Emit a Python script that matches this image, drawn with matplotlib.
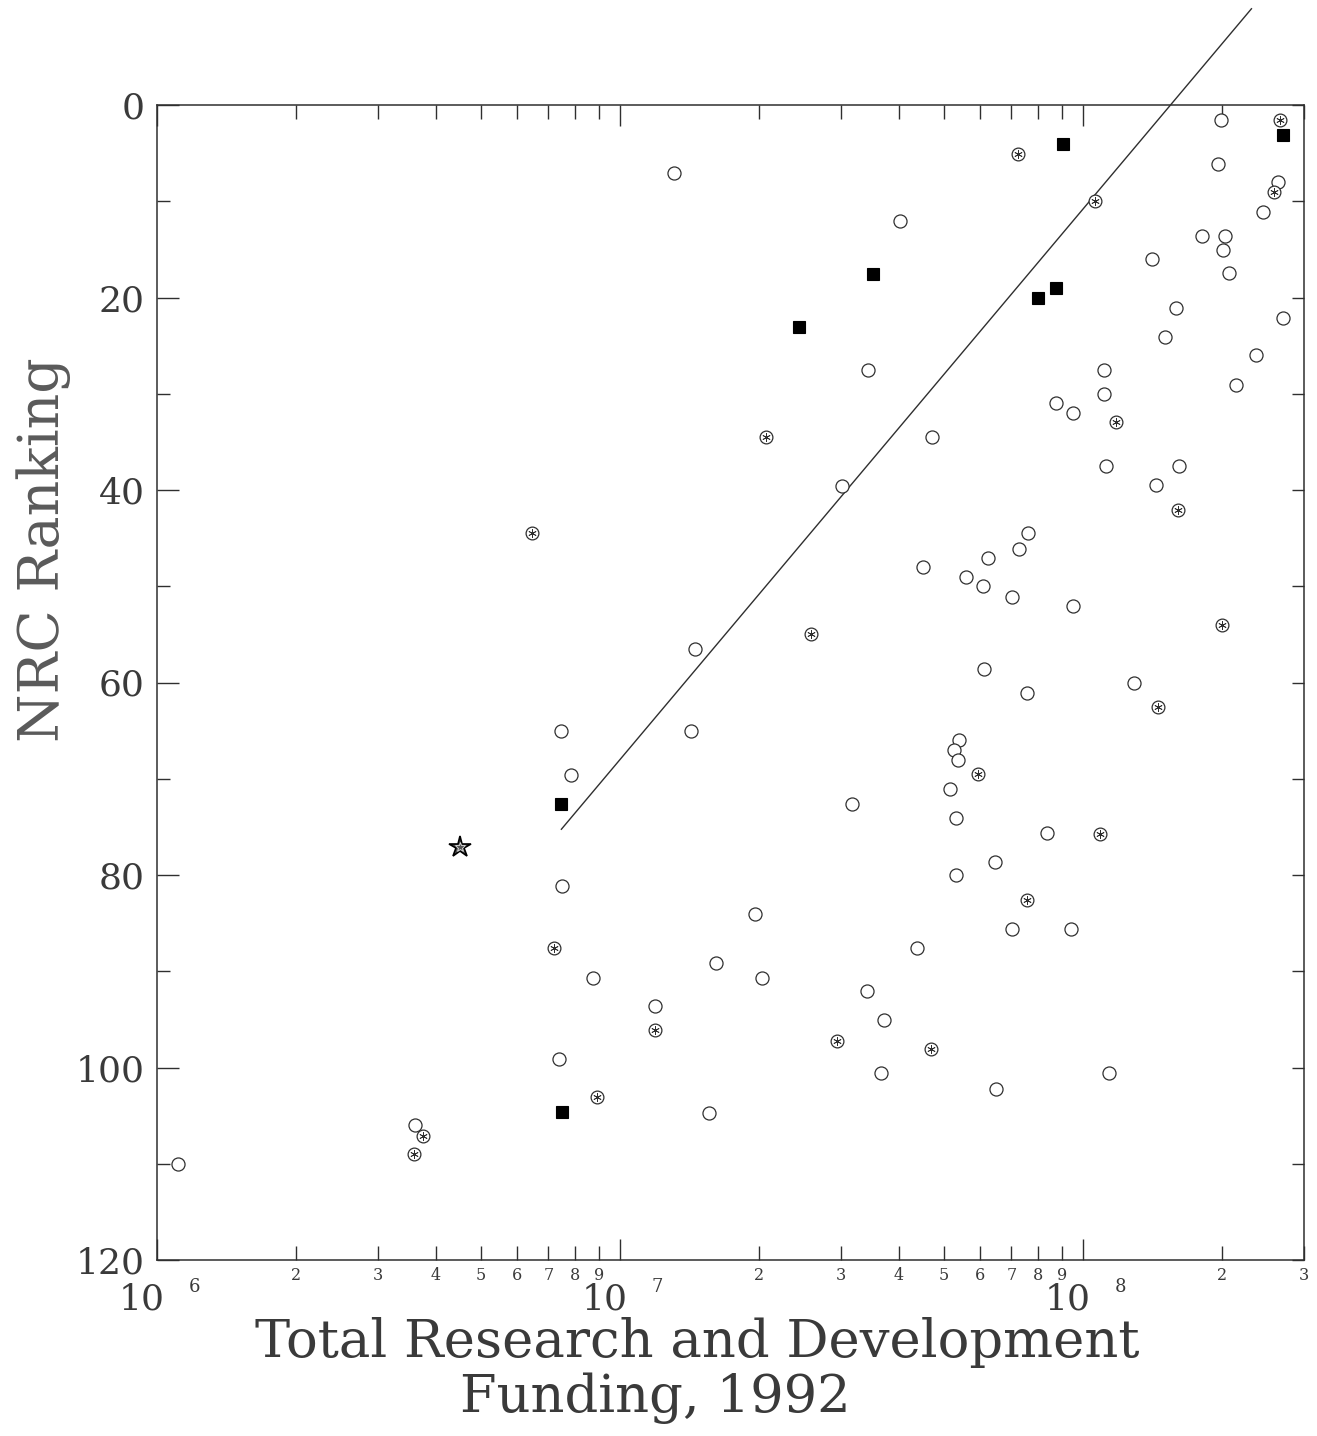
import numpy as np
import matplotlib
matplotlib.use("Agg")
import matplotlib.pyplot as plt
from matplotlib.transforms import blended_transform_factory, ScaledTranslation

# ---------------- data ----------------
open_funding = [1.99e8, 1.96e8, 1.31e7, 2.64e8, 4.03e7, 2.45e8, 1.81e8, 2.03e8, 2.01e8, 1.41e8,
                2.07e8, 1.59e8, 2.70e8, 1.50e8, 2.36e8, 3.44e7, 1.11e8, 2.14e8, 1.11e8, 8.75e7,
                9.53e7, 4.72e7, 1.12e8, 1.61e8, 1.44e8, 3.01e7, 7.59e7, 7.26e7, 6.22e7, 4.52e7,
                5.58e7, 6.08e7, 7.03e7, 9.51e7, 1.45e7, 6.11e7, 1.29e8, 7.57e7, 7.46e6, 1.42e7,
                5.40e7, 5.27e7, 5.36e7, 7.82e6, 5.15e7, 3.17e7, 5.32e7, 8.34e7, 6.44e7, 5.32e7,
                7.48e6, 1.96e7, 7.03e7, 9.40e7, 4.37e7, 1.61e7, 8.75e6, 2.03e7, 3.41e7, 1.19e7,
                3.72e7, 7.38e6, 3.67e7, 1.14e8, 6.47e7, 1.56e7, 3.61e6, 1.11e6]
open_rank = [1.6, 6.1, 7.1, 8.0, 12.0, 11.1, 13.6, 13.6, 15.1, 16.0,
             17.5, 21.1, 22.1, 24.1, 26.0, 27.5, 27.5, 29.1, 30.0, 31.0,
             32.0, 34.5, 37.5, 37.5, 39.5, 39.6, 44.5, 46.1, 47.1, 48.0,
             49.0, 50.0, 51.1, 52.0, 56.5, 58.6, 60.0, 61.1, 65.0, 65.0,
             66.0, 67.0, 68.1, 69.6, 71.1, 72.6, 74.1, 75.6, 78.6, 80.0,
             81.1, 84.1, 85.6, 85.6, 87.6, 89.1, 90.7, 90.7, 92.1, 93.6,
             95.1, 99.1, 100.6, 100.6, 102.2, 104.7, 106.0, 110.0]

star_circle_funding = [2.66e8, 7.24e7, 2.58e8, 1.06e8, 1.18e8, 2.07e7, 1.60e8, 6.44e6, 2.00e8, 2.59e7,
                       1.45e8, 5.92e7, 1.09e8, 7.55e7, 7.21e6, 1.19e7, 2.94e7, 4.69e7, 8.91e6, 3.75e6,
                       3.59e6]
star_circle_rank = [1.6, 5.1, 9.0, 10.0, 32.9, 34.5, 42.1, 44.5, 54.0, 55.0,
                    62.5, 69.5, 75.7, 82.6, 87.6, 96.1, 97.2, 98.1, 103.1, 107.1,
                    109.0]

filled_funding = [2.70e8, 9.04e7, 3.51e7, 8.75e7, 7.98e7, 2.43e7, 7.45e6, 7.50e6]
filled_rank = [3.1, 4.1, 17.6, 19.0, 20.0, 23.1, 72.6, 104.6]

star_funding = [4.51e6]
star_rank = [77.1]

# fitted line: rank = FIT_A + FIT_B * log10(funding)
FIT_A = 468.4
FIT_B = -57.2
fit_funding = [7.47e6, 2.31e8]

y_major = [0, 20, 40, 60, 80, 100, 120]
y_minor = [10, 30, 50, 70, 90, 110]
x_decades = [6, 7, 8]
minor_digits = [2, 3, 4, 5, 6, 7, 8, 9]
last_decade_digits = [2, 3]

xlabel_line1 = "Total Research and Development"
xlabel_line2 = "Funding, 1992"
ylabel_text = "NRC Ranking"

# ---------------- figure ----------------
W, H = 1317, 1436
fig = plt.figure(figsize=(W / 100, H / 100), dpi=100)
plt.rcParams['font.family'] = ['DejaVu Serif', 'DejaVu Sans']
INK = '#2f2f2f'
TXT = '#3a3a3a'

L, R, T, B = 157, 1304, 105, 1260
ax = fig.add_axes([L / W, 1 - B / H, (R - L) / W, (B - T) / H])
ax.set_xscale('log')
ax.set_xlim(1e6, 3e8)
ax.set_ylim(120, 0)
for s in ax.spines.values():
    s.set_color(INK)
    s.set_linewidth(1.1)

# markers
ax.plot(open_funding, open_rank, ls='none', marker='o', ms=9.4, mfc='white', mec=INK, mew=0.9, zorder=3)
ax.plot(star_circle_funding, star_circle_rank, ls='none', marker='o', ms=9.2, mfc='white', mec=INK, mew=0.9, zorder=3)
ax.plot(star_circle_funding, star_circle_rank, ls='none', marker=(6, 2, 0), ms=6.0, mec=INK, mew=0.6, zorder=4)
ax.plot(filled_funding, filled_rank, ls='none', marker='s', ms=8.6, mfc='black', mec='black', mew=0.8, zorder=3)
ax.plot(star_funding, star_rank, ls='none', marker='*', ms=16, mfc='#555555', mec='black', mew=1.2, zorder=3)
ax.plot(star_funding, star_rank, ls='none', marker='*', ms=7, mfc='none', mec='#dddddd', mew=0.6, zorder=4)

# fitted line (extends past the top frame)
fx = np.array(fit_funding)
fy = FIT_A + FIT_B * np.log10(fx)
ax.plot(fx, fy, color=INK, lw=1.0, clip_on=False, zorder=2)

# ---------------- ticks ----------------
major_x = [10.0 ** e for e in x_decades]
minor_x = [d * 10.0 ** e for e in x_decades[:-1] for d in minor_digits] + \
          [d * 10.0 ** x_decades[-1] for d in last_decade_digits]
ax.set_xticks(major_x)
ax.set_xticklabels([])
ax.set_xticks(minor_x, minor=True)
ax.set_xticklabels([], minor=True)
ax.tick_params(axis='x', which='major', direction='in', length=15, width=1.0, color=INK,
               top=True, bottom=True)
ax.tick_params(axis='x', which='minor', direction='in', length=10, width=1.0, color=INK,
               top=True, bottom=True)

ax.set_yticks(y_major)
ax.set_yticklabels([str(v) for v in y_major], fontsize=26, color=TXT)
ax.set_yticks(y_minor, minor=True)
ax.tick_params(axis='y', which='major', direction='in', length=16, width=1.0, color=INK, pad=9,
               left=True, right=False)
ax.tick_params(axis='y', which='minor', direction='in', length=9.5, width=1.0, color=INK,
               left=True, right=False)

axr = ax.twinx()
axr.set_ylim(120, 0)
axr.set_yticks(sorted(y_major + y_minor))
axr.set_yticklabels([])
axr.tick_params(axis='y', direction='in', length=8.6, width=1.0, color=INK)
for s in axr.spines.values():
    s.set_visible(False)

# x tick labels: small digits for minor ticks, "10" + exponent for decades
bt = blended_transform_factory(ax.transData, ax.transAxes)
def off(dx_px, dy_px):
    return bt + ScaledTranslation(dx_px / 100, dy_px / 100, fig.dpi_scale_trans)

for v in minor_x:
    digit = int(round(v / 10.0 ** np.floor(np.log10(v))))
    ax.text(v, 0, str(digit), transform=off(0, -15), ha='center', va='center',
            fontsize=11.5, color=TXT)
for e, v in zip(x_decades, major_x):
    ax.text(v, 0, '10', transform=off(-15, -40), ha='center', va='center',
            fontsize=26, color=TXT)
    ax.text(v, 0, str(e), transform=off(37, -27), ha='center', va='center',
            fontsize=13, color=TXT)

# axis titles
fig.text(697 / W, 1 - 1342 / H, xlabel_line1, ha='center', va='center', fontsize=38, color=TXT)
fig.text(655 / W, 1 - 1398 / H, xlabel_line2, ha='center', va='center', fontsize=38, color=TXT)
fig.text(44 / W, 1 - 550 / H, ylabel_text, ha='center', va='center', rotation=90,
         fontsize=40, color='#5a5a5a')

fig.savefig('out.png', dpi=100)
